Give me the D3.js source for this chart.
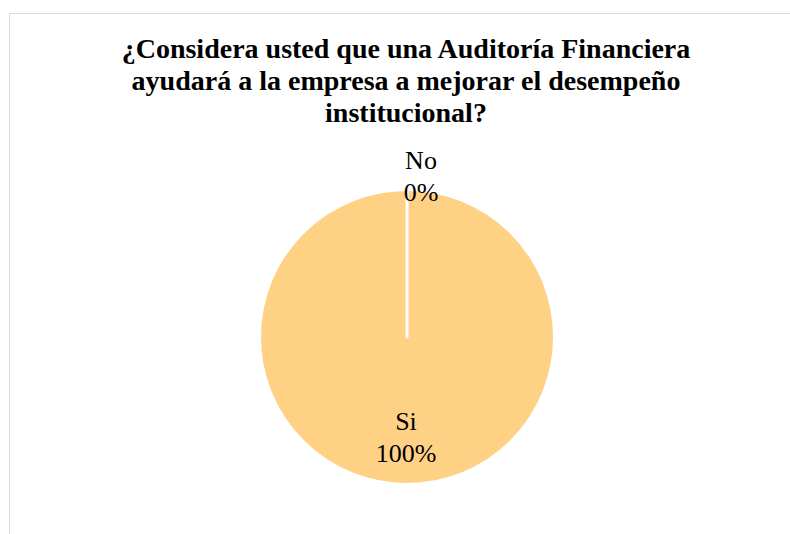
<!DOCTYPE html>
<html>
<head>
<meta charset="utf-8">
<script src="https://cdn.jsdelivr.net/npm/d3@7"></script>
<style>
  html, body { margin: 0; padding: 0; background: #fff; }
  svg { display: block; }
</style>
</head>
<body>
<svg id="chart" width="790" height="534"></svg>
<script>
// Survey answers and their shares (percent)
const categories = ["Si", "No"];
const values = [100, 0];
const titleLines = [
  "¿Considera usted que una Auditoría Financiera",
  "ayudará a la empresa a mejorar el desempeño",
  "institucional?"
];

const svg = d3.select("#chart");
const W = 790, H = 534;

// chart frame
svg.append("rect")
  .attr("x", 9.5).attr("y", 13.5)
  .attr("width", W).attr("height", H)
  .attr("fill", "#fff")
  .attr("stroke", "#d9d9d9")
  .attr("stroke-width", 1);

// title
const title = svg.append("text")
  .attr("text-anchor", "middle")
  .attr("font-family", "'Liberation Serif', 'Times New Roman', serif")
  .attr("font-weight", "bold")
  .attr("font-size", 28)
  .attr("fill", "#000");
titleLines.forEach((t, i) => {
  title.append("tspan").attr("x", 406).attr("y", 58 + i * 32).text(t);
});

// pie
const cx = 407, cy = 337, r = 147.5;
const data = categories.map((c, i) => ({ cat: c, value: values[i] }));
const pie = d3.pie().value(d => d.value).sort(null);
const arc = d3.arc().innerRadius(0).outerRadius(r);
const arcs = pie(data);

const g = svg.append("g").attr("transform", `translate(${cx},${cy})`);
g.selectAll("path.slice")
  .data(arcs)
  .join("path")
  .attr("class", "slice")
  .attr("d", arc)
  .attr("fill", "#ffd185")
  .attr("stroke", "#fff")
  .attr("stroke-width", 3)
  .attr("stroke-linejoin", "round");

// data labels
const fmt = v => d3.format(".0f")(v) + "%";
const labelPos = {
  "Si": [406, 430],
  "No": [421, 169]
};
arcs.forEach(a => {
  const [lx, ly] = labelPos[a.data.cat];
  const t = svg.append("text")
    .attr("text-anchor", "middle")
    .attr("font-family", "'Liberation Serif', 'Times New Roman', serif")
    .attr("font-size", 26)
    .attr("fill", "#000");
  t.append("tspan").attr("x", lx).attr("y", ly).text(a.data.cat);
  t.append("tspan").attr("x", lx).attr("y", ly + 32).text(fmt(a.data.value));
});
</script>
</body>
</html>
